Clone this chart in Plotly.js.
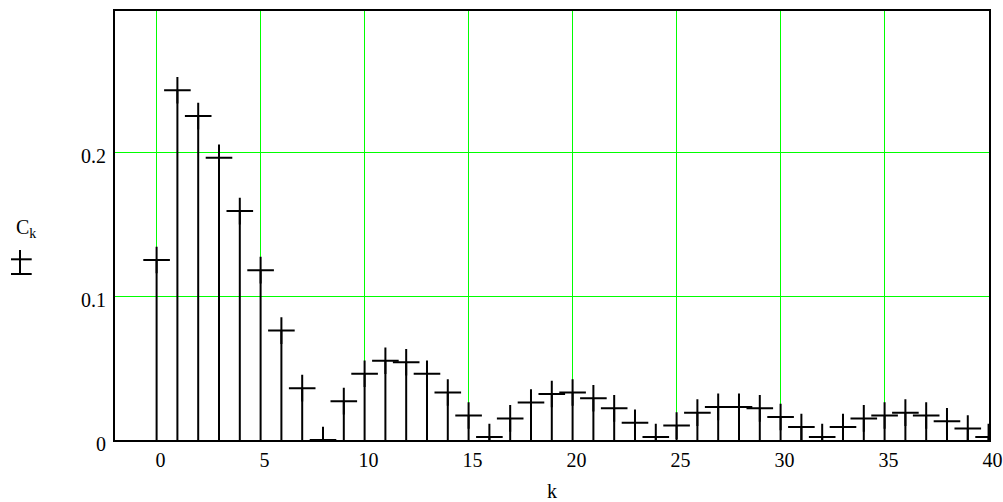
<!DOCTYPE html>
<html>
<head>
<meta charset="utf-8">
<script src="https://cdn.plot.ly/plotly-3.0.1.min.js"></script>
<style>html,body{margin:0;padding:0;background:#fff;}#chart{width:1003px;height:502px;}</style>
</head>
<body>
<div id="chart"></div>
<script>
// Harmonic index k
var k = [0,1,2,3,4,5,6,7,8,9,10,11,12,13,14,15,16,17,18,19,20,21,22,23,24,25,26,27,28,29,30,31,32,33,34,35,36,37,38,39,40];
// Spectrum amplitudes C_k
var Ck = [0.125,0.243,0.225,0.196,0.159,0.118,0.076,0.036,0.0,0.027,0.046,0.055,0.054,0.046,0.033,0.017,0.002,0.015,0.026,0.032,0.033,0.029,0.022,0.012,0.002,0.010,0.019,0.023,0.023,0.022,0.016,0.009,0.002,0.009,0.015,0.017,0.019,0.017,0.013,0.008,0.002];
var xTicks = [0,5,10,15,20,25,30,35,40];
var yTicks = [0,0.1,0.2];
var yTickText = ['0','0.1','0.2'];

// stems built from the data arrays
var sx = [], sy = [];
for (var i = 0; i < k.length; i++) { sx.push(k[i], k[i], null); sy.push(0, Ck[i], null); }

var font = "'Liberation Serif', 'Times New Roman', Times, serif";

var traces = [
  {x: sx, y: sy, type: 'scatter', mode: 'lines', line: {color: '#000', width: 2}, hoverinfo: 'skip', showlegend: false},
  {x: k, y: Ck, type: 'scatter', mode: 'markers', name: 'C_k', showlegend: false,
   marker: {symbol: 'cross-thin', size: 19, color: '#000', line: {color: '#000', width: 2}}}
];

var layout = {
  width: 1003, height: 502,
  margin: {l: 115, r: 14, t: 11, b: 62, pad: 0},
  paper_bgcolor: '#fff', plot_bgcolor: '#fff',
  font: {family: font, size: 20, color: '#000'},
  xaxis: {
    range: [-2, 40.02], tickvals: xTicks, ticktext: xTicks.map(String),
    showgrid: true, gridcolor: '#00ff00', gridwidth: 1, zeroline: false,
    showline: true, mirror: true, linecolor: '#000', linewidth: 2,
    ticks: '', ticklabelstandoff: 1, ticklabelshift: 4,
    tickfont: {family: font, size: 20, color: '#000'},
    title: {text: 'k', font: {family: font, size: 20, color: '#000'}, standoff: 20}
  },
  yaxis: {
    range: [0, 0.298], tickvals: yTicks, ticktext: yTickText,
    showgrid: true, gridcolor: '#00ff00', gridwidth: 1, zeroline: false,
    showline: true, mirror: true, linecolor: '#000', linewidth: 2,
    ticks: '', ticklabelstandoff: 3, ticklabelshift: 4,
    tickfont: {family: font, size: 20, color: '#000'}
  },
  annotations: [
    {text: 'C<sub>k</sub>', xref: 'paper', yref: 'paper', x: -0.1150, y: 0.4930,
     xanchor: 'left', yanchor: 'middle', showarrow: false,
     font: {family: font, size: 20, color: '#000'}}
  ],
  shapes: [
    {type: 'line', xref: 'paper', yref: 'paper', x0: -0.1087, x1: -0.1087, y0: 0.3846, y1: 0.4429, line: {color: '#000', width: 2}},
    {type: 'line', xref: 'paper', yref: 'paper', x0: -0.1190, x1: -0.0953, y0: 0.4212, y1: 0.4212, line: {color: '#000', width: 2}},
    {type: 'line', xref: 'paper', yref: 'paper', x0: -0.1190, x1: -0.0953, y0: 0.3869, y1: 0.3869, line: {color: '#000', width: 2}}
  ]
};

Plotly.newPlot('chart', traces, layout, {displayModeBar: false, staticPlot: true});
</script>
</body>
</html>
